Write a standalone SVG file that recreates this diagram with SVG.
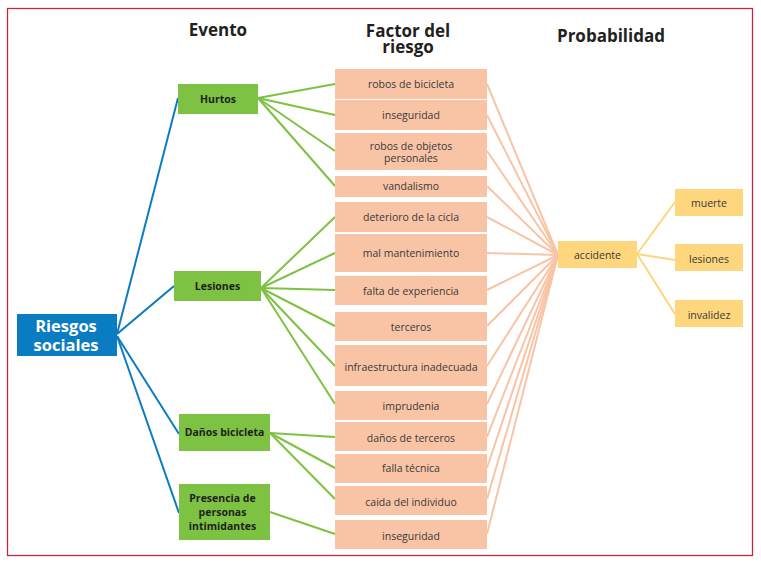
<svg xmlns="http://www.w3.org/2000/svg" width="761" height="564" viewBox="0 0 761 564">
<style>
.hdr{font-family:"Open Sans",sans-serif;font-weight:700;font-size:17px;fill:#231f20;text-anchor:middle}
.ev rect{fill:#7dc242}
.ev text{font-family:"Open Sans",sans-serif;font-weight:700;font-size:10.5px;fill:#231f20;text-anchor:middle}
.fa rect{fill:#f9c4a5}
.fa text,.pr text{font-family:"Open Sans",sans-serif;font-size:10.5px;fill:#3a3a3a;text-anchor:middle}
.pr rect{fill:#fdd67e}
.blue{stroke:#0a7cc1;stroke-width:2;fill:none}
.green{stroke:#7dc242;stroke-width:2;fill:none}
.sal{stroke:#f9c4a5;stroke-width:2;fill:none}
.yel{stroke:#fdd67e;stroke-width:2;fill:none}
</style>
<rect x="0" y="0" width="761" height="564" fill="#fff"/>
<rect x="7.5" y="8.5" width="745" height="547" fill="none" stroke="#c8283c" stroke-width="1.3"/>
<g id="headers">
<text class="hdr" x="218" y="36">Evento</text>
<text class="hdr" x="408" y="36.5">Factor del</text>
<text class="hdr" x="408" y="53">riesgo</text>
<text class="hdr" x="611" y="41.5">Probabilidad</text>
</g>
<g id="connectors">
<g class="blue">
<path d="M117 334 L178 98"/>
<path d="M117 334 L174 286"/>
<path d="M117 336 L179 434"/>
<path d="M117 336 L179 513"/>
</g>
<g class="green">
<path d="M258 98 L335 84"/>
<path d="M258 98 L335 115"/>
<path d="M258 98 L335 151"/>
<path d="M258 98 L335 186"/>
<path d="M261 288 L335 217"/>
<path d="M261 288 L335 253"/>
<path d="M261 288 L335 290"/>
<path d="M261 288 L335 326"/>
<path d="M261 288 L335 366"/>
<path d="M261 288 L335 404"/>
<path d="M270 433 L335 437"/>
<path d="M270 433 L335 468"/>
<path d="M270 433 L335 499"/>
<path d="M270 512 L335 534"/>
</g>
<g class="sal">
<path d="M487 84 L558 255"/>
<path d="M487 115 L558 255"/>
<path d="M487 151 L558 255"/>
<path d="M487 186 L558 255"/>
<path d="M487 217 L558 255"/>
<path d="M487 253 L558 255"/>
<path d="M487 290 L558 255"/>
<path d="M487 326 L558 255"/>
<path d="M487 366 L558 255"/>
<path d="M487 404 L558 255"/>
<path d="M487 437 L558 255"/>
<path d="M487 468 L558 255"/>
<path d="M487 499 L558 255"/>
<path d="M487 534 L558 255"/>
</g>
<g class="yel">
<path d="M637 254 L675 202"/>
<path d="M637 254 L675 260"/>
<path d="M637 254 L675 314"/>
</g>
</g>
<g id="riesgos">
<rect x="17" y="314" width="100" height="42" fill="#0a7cc1"/>
<text x="66" y="332" font-family="Open Sans,sans-serif" font-weight="700" font-size="16.5" fill="#fff" text-anchor="middle">Riesgos</text>
<text x="66" y="350.5" font-family="Open Sans,sans-serif" font-weight="700" font-size="16.5" fill="#fff" text-anchor="middle">sociales</text>
</g>
<g id="ev-hurtos" class="ev"><rect x="178" y="84" width="80" height="30"/><text x="218" y="102.5">Hurtos</text></g>
<g id="ev-lesiones" class="ev"><rect x="174" y="271" width="87" height="30"/><text x="217.5" y="289.5">Lesiones</text></g>
<g id="ev-danos" class="ev"><rect x="179" y="414" width="91" height="37"/><text x="224.5" y="436">Daños bicicleta</text></g>
<g id="ev-presencia" class="ev"><rect x="179" y="484" width="91" height="56"/><text x="222.5" y="502">Presencia de</text><text x="222.5" y="516">personas</text><text x="222.5" y="530">intimidantes</text></g>
<g id="f1" class="fa"><rect x="335" y="69" width="152" height="30"/><text x="411" y="87.5">robos de bicicleta</text></g>
<g id="f2" class="fa"><rect x="335" y="100" width="152" height="30"/><text x="411" y="118.5">inseguridad</text></g>
<g id="f3" class="fa"><rect x="335" y="133" width="152" height="37"/><text x="411" y="149.5">robos de objetos</text><text x="411" y="161.5">personales</text></g>
<g id="f4" class="fa"><rect x="335" y="176" width="152" height="21"/><text x="411" y="190">vandalismo</text></g>
<g id="f5" class="fa"><rect x="335" y="202" width="152" height="30"/><text x="411" y="220.5">deterioro de la cicla</text></g>
<g id="f6" class="fa"><rect x="335" y="234" width="152" height="38"/><text x="411" y="256.5">mal mantenimiento</text></g>
<g id="f7" class="fa"><rect x="335" y="276" width="152" height="29"/><text x="411" y="295">falta de experiencia</text></g>
<g id="f8" class="fa"><rect x="335" y="312" width="152" height="29"/><text x="411" y="330.5">terceros</text></g>
<g id="f9" class="fa"><rect x="335" y="345" width="152" height="41"/><text x="411" y="371">infraestructura inadecuada</text></g>
<g id="f10" class="fa"><rect x="335" y="391" width="152" height="29"/><text x="411" y="409.5">imprudenia</text></g>
<g id="f11" class="fa"><rect x="335" y="422" width="152" height="29"/><text x="411" y="441.5">daños de terceros</text></g>
<g id="f12" class="fa"><rect x="335" y="454" width="152" height="29"/><text x="411" y="471.5">falla técnica</text></g>
<g id="f13" class="fa"><rect x="335" y="486" width="152" height="29"/><text x="411" y="505.5">caida del individuo</text></g>
<g id="f14" class="fa"><rect x="335" y="520" width="152" height="29"/><text x="411" y="539.5">inseguridad</text></g>
<g id="p-accidente" class="pr"><rect x="558" y="241" width="79" height="27"/><text x="597.5" y="259">accidente</text></g>
<g id="p-muerte" class="pr"><rect x="675" y="189" width="68" height="27"/><text x="709" y="207">muerte</text></g>
<g id="p-lesiones" class="pr"><rect x="675" y="244" width="68" height="27"/><text x="709" y="263">lesiones</text></g>
<g id="p-invalidez" class="pr"><rect x="675" y="300" width="68" height="27"/><text x="709" y="318.5">invalidez</text></g>
</svg>
